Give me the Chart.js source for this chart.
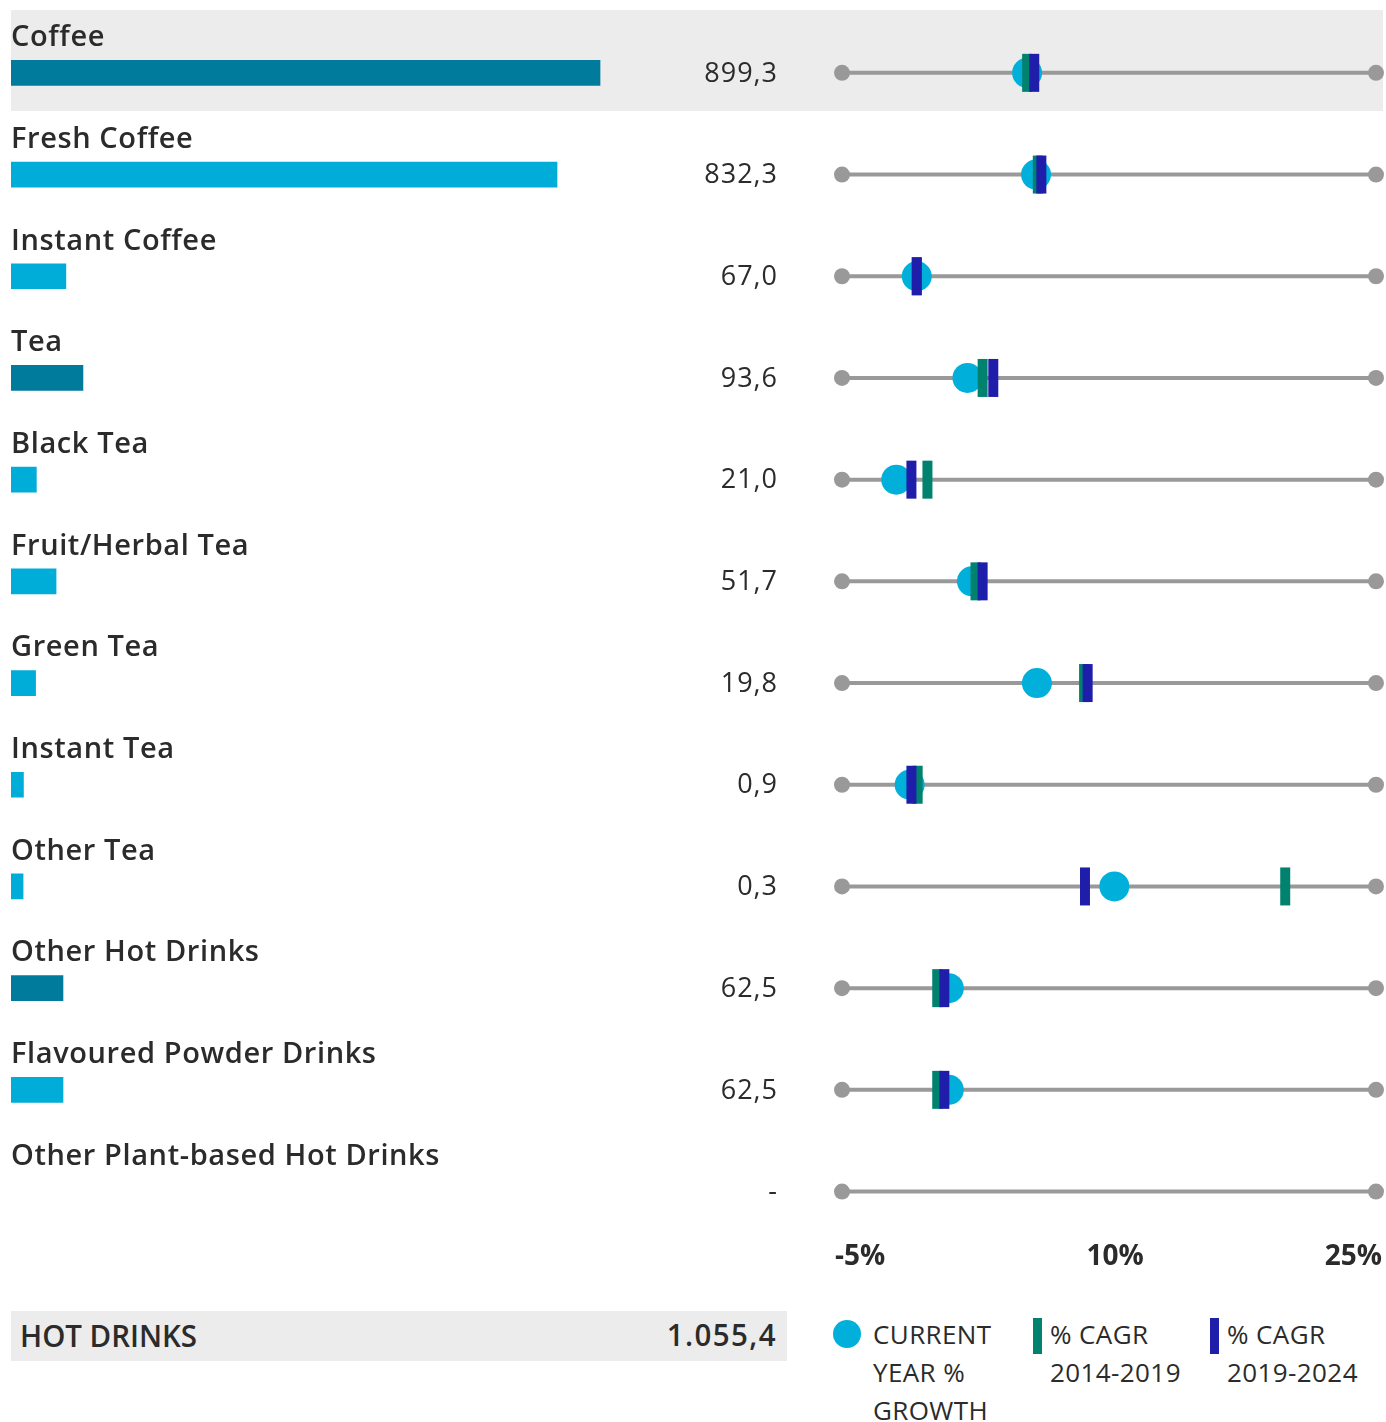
<!DOCTYPE html>
<html>
<head>
<meta charset="utf-8">
<script src="https://cdn.jsdelivr.net/npm/chart.js@4.4.1/dist/chart.umd.min.js"></script>
<style>
  body { margin: 0; background: #fff; font-family: "Open Sans", sans-serif; color: #2b2b2b; }
  #wrap { position: relative; width: 1386px; height: 1422px; overflow: hidden; }
  canvas { position: absolute; top: 0; }
  .band { position: absolute; background: #ececec; }
  .lg { position: absolute; font-size: 26px; line-height: 38px; letter-spacing: 0.4px; color: #2b2b2b; }
  .total { position: absolute; font-size: 31px; font-weight: 600; color: #2b2b2b; transform: scaleX(0.95); }
</style>
</head>
<body>
<div id="wrap">
  <div class="band" style="left:11px;top:10px;width:1372px;height:101px"></div>
  <div class="band" style="left:11px;top:1311px;width:776px;height:50px"></div>
  <canvas id="bars" width="800" height="1250" style="left:0"></canvas>
  <canvas id="growth" width="586" height="1283" style="left:800px"></canvas>
  <div class="total" id="totalName" style="left:20px;top:1314px;transform-origin:left center"></div>
  <div class="total" id="totalValue" style="right:609px;top:1313px;letter-spacing:1.5px;transform-origin:right center"></div>
  <div id="legend"></div>
</div>
<script>
// hot drinks, retail value + growth
var categories = ["Coffee", "Fresh Coffee", "Instant Coffee", "Tea", "Black Tea", "Fruit/Herbal Tea",
    "Green Tea", "Instant Tea", "Other Tea", "Other Hot Drinks", "Flavoured Powder Drinks", "Other Plant-based Hot Drinks"];
var marketSize = [899.3, 832.3, 67.0, 93.6, 21.0, 51.7, 19.8, 0.9, 0.3, 62.5, 62.5, null];
var isGroup = [true, false, false, true, false, false, false, false, false, true, false, false];
var currentGrowth = [5.4, 5.9, -0.8, 2.05, -1.95, 2.3, 5.95, -1.2, 10.3, 1.0, 1.0, null];
var cagr1419 = [5.4, 6.0, -0.8, 2.9, -0.2, 2.5, 8.6, -0.75, 19.9, 0.35, 0.35, null];
var cagr1924 = [5.8, 6.2, -0.8, 3.5, -1.1, 2.9, 8.8, -1.1, 8.65, 0.75, 0.75, null];
var axisTicks = [-5, 10, 25];
var totalName = "HOT DRINKS";
var totalValue = 1055.4;

var DARK = "#007b9b", LIGHT = "#00add9", DOT = "#00b0da", GREEN = "#00826f", BLUE = "#1e1eaa", GREY = "#999999";
var BAR_BASE = -18.5;

function fmt(v) {
    if (v === null) return "-";
    var parts = v.toFixed(1).split(".");
    var int = parts[0].replace(/\B(?=(\d{3})+(?!\d))/g, ".");
    return int + "," + parts[1];
}

document.getElementById("totalName").textContent = totalName;
document.getElementById("totalValue").textContent = fmt(totalValue);

// left panel: labels + bars + values
var labelPlugin = {
    id: "rowLabels",
    afterDatasetsDraw: function(chart) {
        var ctx = chart.ctx;
        var y = chart.scales.y;
        ctx.save();
        ctx.fillStyle = "#2b2b2b";
        ctx.textBaseline = "middle";
        for (let i = 0; i < categories.length; i++) {
            var py = y.getPixelForValue(i);
            ctx.font = "600 29px 'Open Sans'";
            ctx.letterSpacing = "0.6px";
            ctx.textAlign = "left";
            ctx.fillText(categories[i], 11, py - 35);
            ctx.font = "400 27px 'Open Sans'";
            ctx.letterSpacing = "1px";
            ctx.textAlign = "right";
            ctx.fillText(fmt(marketSize[i]), 778, py + 1);
        }
        ctx.restore();
    }
};

new Chart(document.getElementById("bars"), {
    type: "bar",
    data: {
        labels: categories,
        datasets: [{
            data: marketSize,
            base: BAR_BASE,
            backgroundColor: isGroup.map(function(g) { return g ? DARK : LIGHT; }),
            barThickness: 25,
            borderWidth: 0,
        }],
    },
    options: {
        indexAxis: "y",
        responsive: false,
        animation: false,
        events: [],
        layout: { autoPadding: false, padding: { left: 11, top: 22, right: 7, bottom: 7.6 } },
        plugins: { legend: { display: false }, tooltip: { enabled: false } },
        scales: {
            x: { min: BAR_BASE, max: 1200, display: false },
            y: { display: false },
        },
    },
    plugins: [labelPlugin],
});

// right panel: growth dot plot
function points(arr) {
    var out = [];
    for (let i = 0; i < arr.length; i++) {
        if (arr[i] !== null) out.push({ x: arr[i], y: categories[i] });
    }
    return out;
}

var growthSets = [];
growthSets.push({ data: points(cagr1924), pointStyle: "line", rotation: 90, pointRadius: 19,
    pointBorderWidth: 10, borderColor: BLUE, backgroundColor: BLUE, order: 0, clip: false });
growthSets.push({ data: points(cagr1419), pointStyle: "line", rotation: 90, pointRadius: 19,
    pointBorderWidth: 10, borderColor: GREEN, backgroundColor: GREEN, order: 1, clip: false });
growthSets.push({ data: points(currentGrowth), pointStyle: "circle", pointRadius: 15,
    pointBorderWidth: 0, backgroundColor: DOT, borderColor: DOT, order: 2, clip: false });
for (let i = 0; i < categories.length; i++) {
    growthSets.push({
        data: [{ x: axisTicks[0], y: categories[i] }, { x: axisTicks[axisTicks.length - 1], y: categories[i] }],
        showLine: true, borderColor: GREY, borderWidth: 4, pointRadius: 8, pointBorderWidth: 0,
        backgroundColor: GREY, order: 3, clip: false,
    });
}

var tickPlugin = {
    id: "pctTicks",
    afterDraw: function(chart) {
        var ctx = chart.ctx;
        var x = chart.scales.x;
        var ty = chart.chartArea.bottom + 15;
        ctx.save();
        ctx.font = "bold 28px 'Open Sans'";
        ctx.fillStyle = "#2b2b2b";
        ctx.textBaseline = "middle";
        axisTicks.forEach(function(v, i) {
            var px = x.getPixelForValue(v);
            if (i === 0) { ctx.textAlign = "left"; px -= 7; }
            else if (i === axisTicks.length - 1) { ctx.textAlign = "right"; px += 6; }
            else { ctx.textAlign = "center"; px += 6; }
            ctx.fillText(v + "%", px, ty);
        });
        ctx.restore();
    }
};

new Chart(document.getElementById("growth"), {
    type: "scatter",
    data: { datasets: growthSets },
    options: {
        responsive: false,
        animation: false,
        events: [],
        layout: { autoPadding: false, padding: { left: 42, top: 22, right: 10, bottom: 40.6 } },
        plugins: { legend: { display: false }, tooltip: { enabled: false } },
        scales: {
            x: { type: "linear", min: axisTicks[0], max: axisTicks[axisTicks.length - 1], display: false },
            y: { type: "category", labels: categories, offset: true, display: false },
        },
    },
    plugins: [tickPlugin],
});

// legend
var legend = document.getElementById("legend");
var lgItems = [
    { x: 833, mark: "circle", color: DOT, text: ["CURRENT", "YEAR %", "GROWTH"] },
    { x: 1033, mark: "bar", color: GREEN, text: ["% CAGR", "2014-2019"] },
    { x: 1210, mark: "bar", color: BLUE, text: ["% CAGR", "2019-2024"] },
];
lgItems.forEach(function(it) {
    var m = document.createElement("div");
    m.style.position = "absolute";
    m.style.background = it.color;
    if (it.mark === "circle") {
        m.style.left = it.x + "px"; m.style.top = "1320px";
        m.style.width = "28px"; m.style.height = "28px"; m.style.borderRadius = "50%";
    } else {
        m.style.left = it.x + "px"; m.style.top = "1318px";
        m.style.width = "9px"; m.style.height = "36px";
    }
    legend.appendChild(m);
    var t = document.createElement("div");
    t.className = "lg";
    t.style.left = (it.x + (it.mark === "circle" ? 40 : 17)) + "px";
    t.style.top = "1315px";
    t.innerHTML = it.text.join("<br>");
    legend.appendChild(t);
});
</script>
</body>
</html>
